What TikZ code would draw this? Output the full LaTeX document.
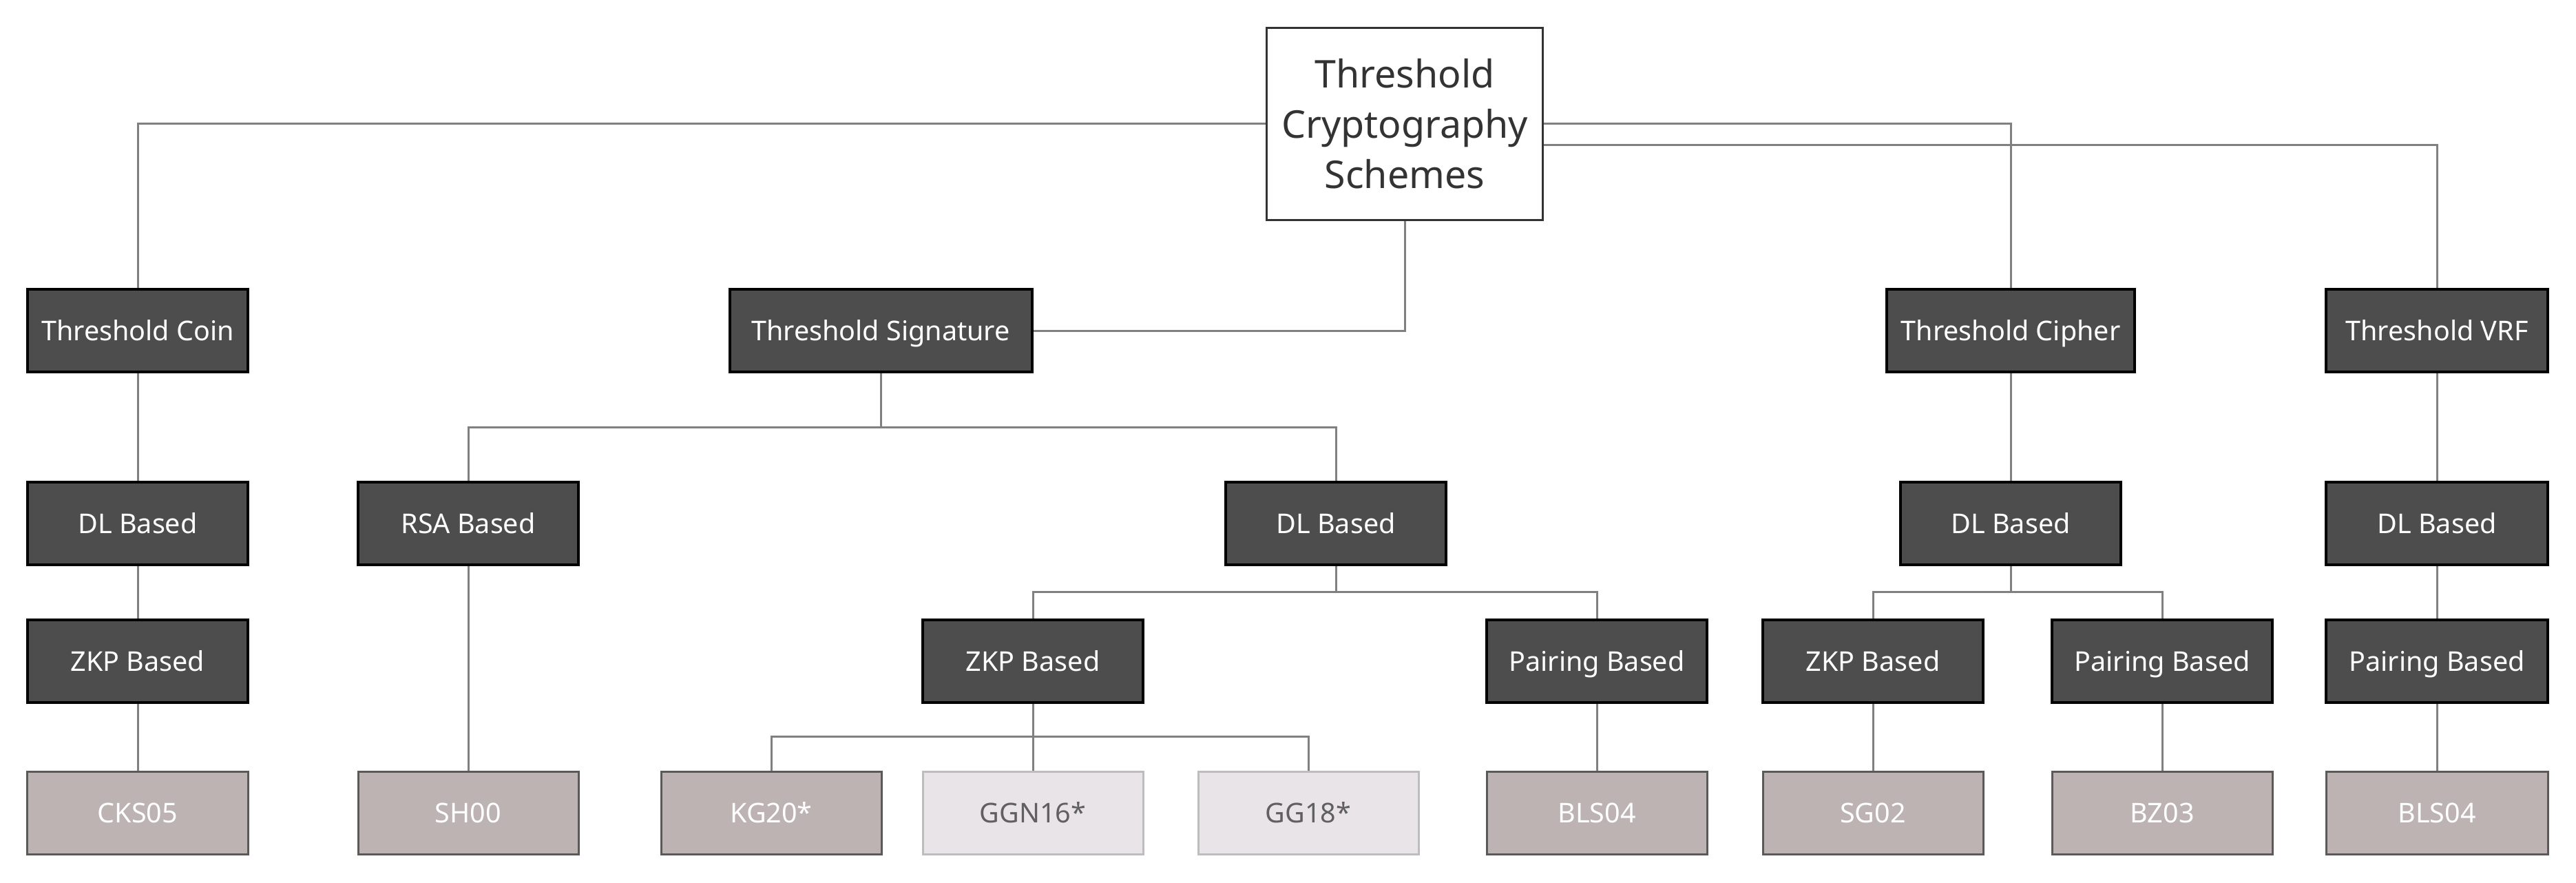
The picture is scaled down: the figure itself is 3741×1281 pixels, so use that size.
\documentclass[tikz,border=0pt]{standalone}
\usepackage{fontspec}
\setmainfont{Noto Sans}
\definecolor{darkfill}{HTML}{4D4D4D}
\definecolor{leaffill}{HTML}{BCB3B2}
\definecolor{leafdraw}{HTML}{5A5A5A}
\definecolor{palefill}{HTML}{E8E4E7}
\definecolor{paledraw}{HTML}{BDBDBD}
\definecolor{paletext}{HTML}{606060}
\definecolor{linkcol}{HTML}{808080}
\definecolor{roottext}{HTML}{333333}
\tikzset{
  box/.style={rectangle, minimum height=24pt, inner sep=0pt, text height=5.7pt, text depth=0pt, font=\fontsize{7.9}{10}\selectfont, align=center},
  darkbox/.style={box, fill=darkfill, draw=black, line width=0.8pt, text=white},
  leafbox/.style={box, fill=leaffill, draw=leafdraw, line width=0.6pt, text=white},
  palebox/.style={box, fill=palefill, draw=paledraw, line width=0.6pt, text=paletext},
  rootbox/.style={rectangle, fill=white, draw=roottext, line width=0.6pt, text=roottext, minimum width=80.2pt, minimum height=55.8pt, inner sep=0pt, font=\fontsize{11.1}{14.6}\selectfont, align=center},
  link/.style={draw=linkcol, line width=0.6pt}
}
\begin{document}
\begin{tikzpicture}[x=0.2pt,y=-0.2pt]
\useasboundingbox[fill=white] (0,0) rectangle (3741,1281);
% root
\node[rootbox] (root) at (2040,180) {Threshold\\Cryptography\\Schemes};
% level 1
\node[darkbox, minimum width=64pt] (coin) at (200,480) {Threshold Coin};
\node[darkbox, minimum width=87.8pt] (sig) at (1279,480) {Threshold Signature};
\node[darkbox, minimum width=72pt] (cip) at (2920,480) {Threshold Cipher};
\node[darkbox, minimum width=64.4pt] (vrf) at (3539,480) {Threshold VRF};
% level 2
\node[darkbox, minimum width=64pt] (coinDL) at (200,760) {DL Based};
\node[darkbox, minimum width=64pt] (rsa) at (680,760) {RSA Based};
\node[darkbox, minimum width=64pt] (sigDL) at (1940,760) {DL Based};
\node[darkbox, minimum width=64pt] (cipDL) at (2920,760) {DL Based};
\node[darkbox, minimum width=64.4pt] (vrfDL) at (3539,760) {DL Based};
% level 3
\node[darkbox, minimum width=64pt] (coinZKP) at (200,960) {ZKP Based};
\node[darkbox, minimum width=64pt] (sigZKP) at (1500,960) {ZKP Based};
\node[darkbox, minimum width=64pt] (sigPair) at (2319,960) {Pairing Based};
\node[darkbox, minimum width=64pt] (cipZKP) at (2720,960) {ZKP Based};
\node[darkbox, minimum width=64pt] (cipPair) at (3140,960) {Pairing Based};
\node[darkbox, minimum width=64.4pt] (vrfPair) at (3539,960) {Pairing Based};
% leaves
\node[leafbox, minimum width=64pt] (cks) at (200,1180) {CKS05};
\node[leafbox, minimum width=64pt] (sh) at (680,1180) {SH00};
\node[leafbox, minimum width=64pt] (kg) at (1120,1180) {KG20*};
\node[palebox, minimum width=64pt] (ggn) at (1500,1180) {GGN16*};
\node[palebox, minimum width=64pt] (gg) at (1900,1180) {GG18*};
\node[leafbox, minimum width=64pt] (bls) at (2319,1180) {BLS04};
\node[leafbox, minimum width=64pt] (sg) at (2720,1180) {SG02};
\node[leafbox, minimum width=64pt] (bz) at (3140,1180) {BZ03};
\node[leafbox, minimum width=64.4pt] (blsv) at (3539,1180) {BLS04};
% junction coordinates
\coordinate (rL) at (root.west |- 0,179);
\coordinate (rR1) at (root.east |- 0,179);
\coordinate (rR2) at (root.east |- 0,210);
% connectors
\draw[link] (rL) -| (coin.north);
\draw[link] (rR1) -| (cip.north);
\draw[link] (rR2) -| (vrf.north);
\draw[link] (root.south) |- (sig.east);
\draw[link] (sig.south) -- (sig.south |- 0,620);
\draw[link] (rsa.north) -- (rsa.north |- 0,620) -- (sigDL.north |- 0,620) -- (sigDL.north);
\draw[link] (sigDL.south) -- (sigDL.south |- 0,859);
\draw[link] (sigZKP.north) -- (sigZKP.north |- 0,859) -- (sigPair.north |- 0,859) -- (sigPair.north);
\draw[link] (sigZKP.south) -- (ggn.north);
\draw[link] (kg.north) -- (kg.north |- 0,1069) -- (gg.north |- 0,1069) -- (gg.north);
\draw[link] (cipDL.south) -- (cipDL.south |- 0,859);
\draw[link] (cipZKP.north) -- (cipZKP.north |- 0,859) -- (cipPair.north |- 0,859) -- (cipPair.north);
\draw[link] (coin.south) -- (coinDL.north);
\draw[link] (coinDL.south) -- (coinZKP.north);
\draw[link] (coinZKP.south) -- (cks.north);
\draw[link] (rsa.south) -- (sh.north);
\draw[link] (sigPair.south) -- (bls.north);
\draw[link] (cip.south) -- (cipDL.north);
\draw[link] (cipZKP.south) -- (sg.north);
\draw[link] (cipPair.south) -- (bz.north);
\draw[link] (vrf.south) -- (vrfDL.north);
\draw[link] (vrfDL.south) -- (vrfPair.north);
\draw[link] (vrfPair.south) -- (blsv.north);
\end{tikzpicture}
\end{document}
